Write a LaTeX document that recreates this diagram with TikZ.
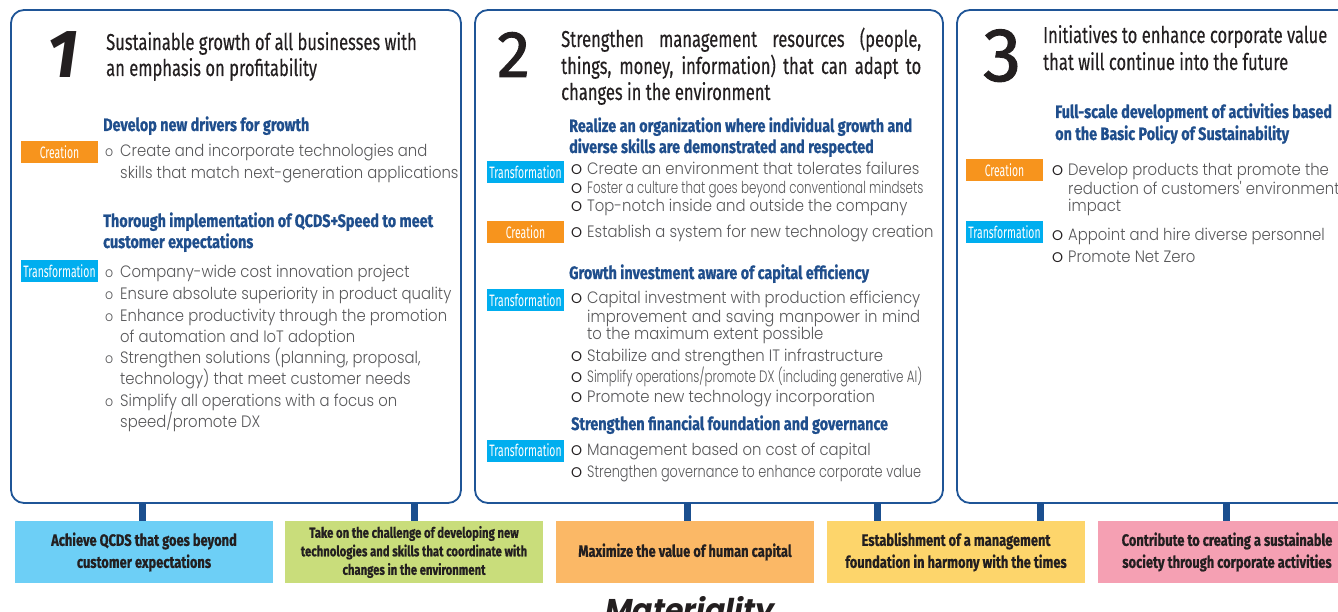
\documentclass[tikz,border=0pt]{standalone}
\usepackage{fontspec}
\setmainfont{Fira Sans}
\newfontfamily\fcond[FakeStretch=0.72,FakeBold=0.3]{Fira Sans}
\newfontfamily\ftag[FakeStretch=0.63]{Fira Sans}
\newfontfamily\fcondb[FakeStretch=0.8,FakeBold=0.8]{Fira Sans}
\newfontfamily\fmatb[FakeStretch=0.78,FakeBold=0.6]{Fira Sans}
\newfontfamily\fbody[FakeStretch=0.9]{Poppins Light}
\newfontfamily\fbodyc[FakeStretch=0.78]{Poppins Light}
\newfontfamily\fbodyx[FakeStretch=0.72]{Poppins Light}
\newfontfamily\fbul{Poppins}
\newfontfamily\fnum{Fira Sans}
\newfontfamily\fnumr[FakeBold=1.5]{Fira Sans}
\newfontfamily\fmat{Poppins}
\definecolor{bordc}{HTML}{1F5597}
\definecolor{stubc}{HTML}{1B4F8F}
\definecolor{headc}{HTML}{1F4E8C}
\definecolor{titlec}{HTML}{231F20}
\definecolor{bodyc}{HTML}{58585A}
\definecolor{creac}{HTML}{F7941D}
\definecolor{tranc}{HTML}{00AEEF}
\definecolor{mA}{HTML}{6DCFF6}
\definecolor{mB}{HTML}{C9DD7B}
\definecolor{mC}{HTML}{FBB866}
\definecolor{mD}{HTML}{FDD56B}
\definecolor{mE}{HTML}{F5A0B3}
\tikzset{
  bigbox/.style={draw=bordc, line width=1.8pt, rounded corners=13pt, inner sep=0pt, outer sep=0pt},
  tagbox/.style={inner sep=0pt, minimum width=77pt, minimum height=22pt, text=white, font=\ftag\fontsize{16.5}{18}\selectfont},
  ctag/.style={tagbox, fill=creac},
  ttag/.style={tagbox, fill=tranc},
  ttl/.style={anchor=base west, inner sep=0pt, text=titlec, font=\fcond\fontsize{23}{26}\selectfont},
  hd/.style={anchor=base west, inner sep=0pt, text=headc, font=\fcondb\bfseries\fontsize{18}{21}\selectfont},
  bd/.style={anchor=base west, inner sep=0pt, text=bodyc, font=\fbody\fontsize{16.5}{20}\selectfont},
  bdc/.style={anchor=base west, inner sep=0pt, text=bodyc, font=\fbodyc\fontsize{16.5}{20}\selectfont},
  bdx/.style={anchor=base west, inner sep=0pt, text=bodyc, font=\fbodyx\fontsize{16.5}{20}\selectfont},
  bulo/.style={anchor=base west, inner sep=0pt, text=bodyc, font=\fbody\fontsize{14}{16}\selectfont},
  bulO/.style={anchor=base west, inner sep=0pt, text=titlec, font=\fbul\fontsize{14}{16}\selectfont},
  matbox/.style={inner sep=0pt, minimum width=258pt, minimum height=62pt, align=center, text=titlec, font=\fmatb\bfseries\fontsize{16.5}{22}\selectfont},
  stub/.style={draw=stubc, line width=7pt},
}
\begin{document}
\begin{tikzpicture}[x=1pt,y=-1pt]
\useasboundingbox (0,0) rectangle (1338,612);
\clip (0,0) rectangle (1338,612);
% big boxes
\node[bigbox, minimum width=450pt, minimum height=493pt] (B1) at (236,256.5) {};
\node[bigbox, minimum width=468pt, minimum height=493pt] (B2) at (709,256.5) {};
\node[bigbox, minimum width=443pt, minimum height=493pt] (B3) at (1178.5,256.5) {};
% materiality boxes
\node[matbox, fill=mA] (MA) at (144,552) {Achieve QCDS that goes beyond\\customer expectations};
\node[matbox, fill=mB, font=\fmatb\bfseries\fontsize{14.5}{18.5}\selectfont] (MB) at (414,552) {Take on the challenge of developing new\\technologies and skills that coordinate with\\changes in the environment};
\node[matbox, fill=mC] (MC) at (685,552) {Maximize the value of human capital};
\node[matbox, fill=mD] (MD) at (956,552) {Establishment of a management\\foundation in harmony with the times};
\node[matbox, fill=mE] (ME) at (1227,552) {Contribute to creating a sustainable\\society through corporate activities};
% stubs
\draw[stub] (B1.south -| 142,0) -- (MA.north -| 142,0);
\draw[stub] (B1.south -| 414,0) -- (MB.north -| 414,0);
\draw[stub] (B2.south -| 687,0) -- (MC.north -| 687,0);
\draw[stub] (B2.south -| 877,0) -- (MD.north -| 877,0);
\draw[stub] (B3.south -| 1040,0) -- (ME.north -| 1040,0);
\draw[stub] (B3.south -| 1226,0) -- (ME.north -| 1226,0);
\node[anchor=base, inner sep=0pt, text=titlec, font=\fmat\bfseries\itshape\fontsize{30}{34}\selectfont] (mat) at (690,620) {Materiality};
% ---------- Box 1
\node[anchor=base west, inner sep=0pt, text=titlec, font=\fnum\bfseries\itshape\fontsize{68}{70}\selectfont] (n1) at (47,78) {1};
\node[ttl] (t1a) at (106,50) {Sustainable growth of all businesses with};
\node[ttl] (t1b) at (106,76) {an emphasis on profitability};
\node[hd] (h1a) at (103,131) {Develop new drivers for growth};
\node[ctag] (g1a) at (59.5,152) {Creation};
\node[bulo] (o1a) at (105,157) {o};
\node[bd] (l1a) at (120,157) {Create and incorporate technologies and};
\node[bd] (l1b) at (120,179) {skills that match next-generation applications};
\node[hd] (h1b) at (103,227) {Thorough implementation of QCDS+Speed to meet};
\node[hd] (h1c) at (103,248) {customer expectations};
\node[ttag] (g1b) at (59.5,271.5) {Transformation};
\node[bulo] (o1b) at (105,278) {o};
\node[bd] (l1c) at (120,278) {Company-wide cost innovation project};
\node[bulo] (o1c) at (105,299) {o};
\node[bd] (l1d) at (120,299) {Ensure absolute superiority in product quality};
\node[bulo] (o1d) at (105,321) {o};
\node[bd] (l1e) at (120,321) {Enhance productivity through the promotion};
\node[bd] (l1f) at (120,342) {of automation and IoT adoption};
\node[bulo] (o1e) at (105,363) {o};
\node[bd] (l1g) at (120,363) {Strengthen solutions (planning, proposal,};
\node[bd] (l1h) at (120,384) {technology) that meet customer needs};
\node[bulo] (o1f) at (105,406) {o};
\node[bd] (l1i) at (120,406) {Simplify all operations with a focus on};
\node[bd] (l1j) at (120,427) {speed/promote DX};
% ---------- Box 2
\node[anchor=base west, inner sep=0pt, text=titlec, font=\fnumr\fontsize{66}{70}\selectfont] (n2) at (497,77) {2};
\node[ttl] (t2a) at (561,47) {\makebox[360pt][s]{Strengthen management resources (people,}};
\node[ttl] (t2b) at (561,74) {\makebox[360pt][s]{things, money, information) that can adapt to}};
\node[ttl] (t2c) at (561,100) {changes in the environment};
\node[hd] (h2a) at (569,132) {Realize an organization where individual growth and};
\node[hd] (h2b) at (569,153) {diverse skills are demonstrated and respected};
\node[ttag] (g2a) at (525.5,172.5) {Transformation};
\node[bulO] (o2a) at (571,175) {O};
\node[bd] (l2a) at (587,175) {Create an environment that tolerates failures};
\node[bulO] (o2b) at (571,194) {O};
\node[bdx] (l2b) at (587,194) {Foster a culture that goes beyond conventional mindsets};
\node[bulO] (o2c) at (571,212) {O};
\node[bd] (l2c) at (587,212) {Top-notch inside and outside the company};
\node[ctag] (g2b) at (525.5,232) {Creation};
\node[bulO] (o2d) at (571,238) {O};
\node[bd] (l2d) at (587,238) {Establish a system for new technology creation};
\node[hd] (h2c) at (569,279) {Growth investment aware of capital efficiency};
\node[ttag] (g2c) at (525.5,300) {Transformation};
\node[bulO] (o2e) at (571,303) {O};
\node[bd] (l2e) at (587,303) {\makebox[333pt][s]{Capital investment with production efficiency}};
\node[bd] (l2f) at (587,322) {\makebox[333pt][s]{improvement and saving manpower in mind}};
\node[bd] (l2g) at (587,339) {to the maximum extent possible};
\node[bulO] (o2f) at (571,361) {O};
\node[bd] (l2h) at (587,361) {Stabilize and strengthen IT infrastructure};
\node[bulO] (o2g) at (571,382) {O};
\node[bdx] (l2i) at (587,382) {Simplify operations/promote DX (including generative AI)};
\node[bulO] (o2h) at (571,402) {O};
\node[bd] (l2j) at (587,402) {Promote new technology incorporation};
\node[hd] (h2d) at (571,430) {Strengthen financial foundation and governance};
\node[ttag] (g2d) at (525.5,450.5) {Transformation};
\node[bulO] (o2i) at (571,455) {O};
\node[bd] (l2k) at (587,455) {Management based on cost of capital};
\node[bulO] (o2j) at (571,477) {O};
\node[bdc] (l2l) at (587,477) {Strengthen governance to enhance corporate value};
% ---------- Box 3
\node[anchor=base west, inner sep=0pt, text=titlec, font=\fnumr\fontsize{76}{80}\selectfont] (n3) at (983,81) {3};
\node[ttl] (t3a) at (1043,43) {Initiatives to enhance corporate value};
\node[ttl] (t3b) at (1043,70) {that will continue into the future};
\node[hd] (h3a) at (1055,118) {Full-scale development of activities based};
\node[hd] (h3b) at (1055,140) {on the Basic Policy of Sustainability};
\node[ctag] (g3a) at (1004.5,170.5) {Creation};
\node[bulO] (o3a) at (1052,176) {O};
\node[bd] (l3a) at (1068,176) {Develop products that promote the};
\node[bd] (l3b) at (1068,195) {reduction of customers' environmental};
\node[bd] (l3c) at (1068,212) {impact};
\node[ttag] (g3b) at (1004.5,232) {Transformation};
\node[bulO] (o3b) at (1052,241) {O};
\node[bd] (l3d) at (1068,241) {Appoint and hire diverse personnel};
\node[bulO] (o3c) at (1052,262) {O};
\node[bd] (l3e) at (1068,262) {Promote Net Zero};
\end{tikzpicture}
\end{document}
